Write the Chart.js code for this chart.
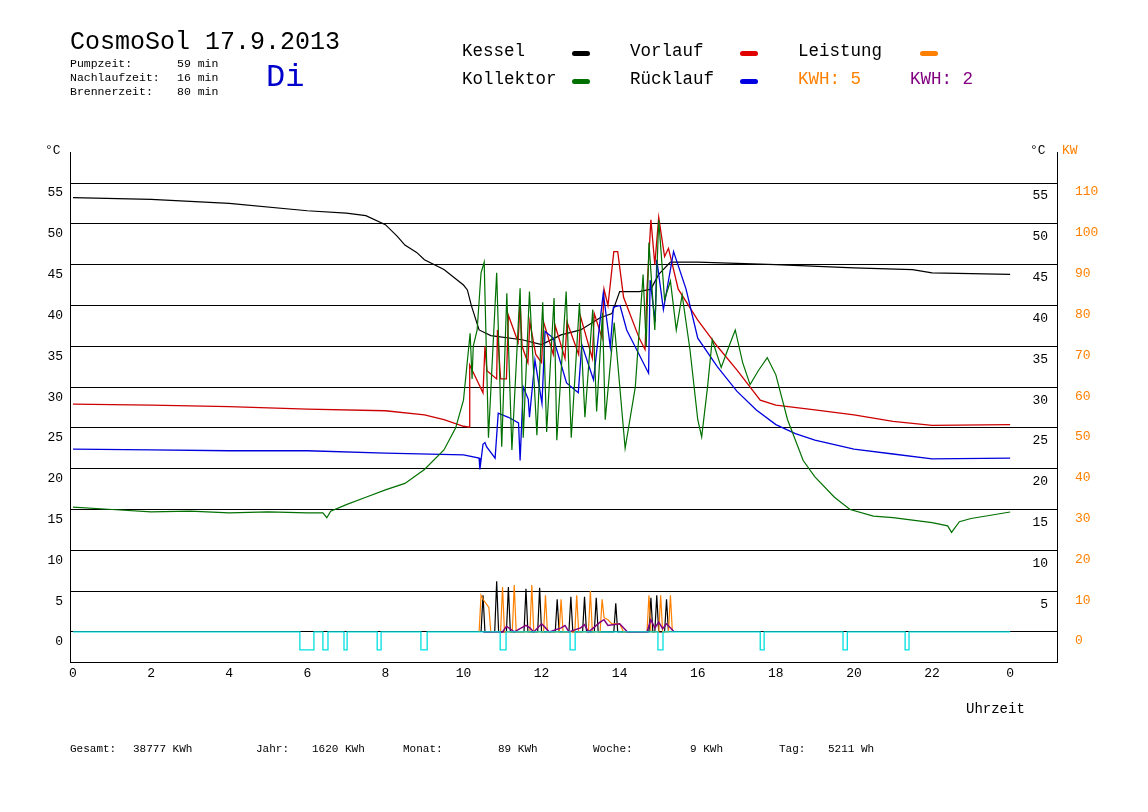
<!DOCTYPE html>
<html><head><meta charset="utf-8">
<script src="https://cdn.jsdelivr.net/npm/chart.js@4"></script>
<style>
body{margin:0;background:#fff;font-family:"Liberation Mono",monospace;}
#wrap{position:relative;width:1148px;height:812px;}
.t{position:absolute;white-space:pre;color:#000;}
.s{font-size:11.5px;}
.b{font-size:11px;top:743px;}
.lg{font-size:17.5px;}
.sw{position:absolute;width:18px;height:5px;border-radius:3px;}
</style></head><body>
<div id="wrap">
<canvas id="c" width="1148" height="812"></canvas>
<div class="t" style="left:70px;top:28px;font-size:25px;">CosmoSol 17.9.2013</div>
<div class="t s" style="left:70px;top:57px;">Pumpzeit:</div><div class="t s" style="left:177px;top:57px;">59 min</div>
<div class="t s" style="left:70px;top:71px;">Nachlaufzeit:</div><div class="t s" style="left:177px;top:71px;">16 min</div>
<div class="t s" style="left:70px;top:85px;">Brennerzeit:</div><div class="t s" style="left:177px;top:85px;">80 min</div>
<div class="t" style="left:266px;top:59px;font-size:32px;color:#0000cc;">Di</div>
<div class="t lg" style="left:462px;top:41px;">Kessel</div>
<div class="sw" style="left:572px;top:51px;background:#000"></div>
<div class="t lg" style="left:630px;top:41px;">Vorlauf</div>
<div class="sw" style="left:740px;top:51px;background:#e00000"></div>
<div class="t lg" style="left:798px;top:41px;">Leistung</div>
<div class="sw" style="left:920px;top:51px;background:#ff8000"></div>
<div class="t lg" style="left:462px;top:69px;">Kollektor</div>
<div class="sw" style="left:572px;top:79px;background:#007000"></div>
<div class="t lg" style="left:630px;top:69px;">Rücklauf</div>
<div class="sw" style="left:740px;top:79px;background:#0000e0"></div>
<div class="t lg" style="left:798px;top:69px;color:#ff8000">KWH: 5</div>
<div class="t lg" style="left:910px;top:69px;color:#800080">KWH: 2</div>
<div class="t" style="left:45px;top:143px;font-size:13px;">°C</div>
<div class="t" style="left:1030px;top:143px;font-size:13px;">°C</div>
<div class="t" style="left:1062px;top:143px;font-size:13px;color:#ff8000">KW</div>
<div class="t" style="left:966px;top:701px;font-size:14px;">Uhrzeit</div>
<div class="t b" style="left:70px;">Gesamt:</div><div class="t b" style="left:133px;">38777 KWh</div>
<div class="t b" style="left:256px;">Jahr:</div><div class="t b" style="left:312px;">1620 KWh</div>
<div class="t b" style="left:403px;">Monat:</div><div class="t b" style="left:498px;">89 KWh</div>
<div class="t b" style="left:593px;">Woche:</div><div class="t b" style="left:690px;">9 KWh</div>
<div class="t b" style="left:779px;">Tag:</div><div class="t b" style="left:828px;">5211 Wh</div>
</div>
<script>
const xTicks=[0,2,4,6,8,10,12,14,16,18,20,22,24];
const yTicksC=[0,5,10,15,20,25,30,35,40,45,50,55];
const kesselT=[0,2,4,6,7,7.5,8,8.3,8.5,8.8,9,9.5,10,10.1,10.2,10.4,10.7,11.5,12,12.5,13,13.5,13.8,14,14.5,14.8,15,15.3,16,18,20,21.5,22,24];
const kesselV=[53.2,53,52.5,51.6,51.3,51,49.9,48.5,47.4,46.5,45.6,44.4,42.5,41.9,40,37,36.3,35.8,35.2,36.4,37,38.5,39,41.7,41.7,42,43.8,45.3,45.3,45,44.6,44.4,44,43.8];
const vorT=[0,2,4,6,8,9,9.5,10,10.15,10.16,10.5,10.55,10.6,10.85,10.87,10.95,11.1,11.15,11.4,11.45,11.5,11.65,11.7,11.85,12.0,12.05,12.3,12.35,12.6,12.65,12.95,13.0,13.3,13.35,13.55,13.6,13.7,13.85,13.95,14.1,14.5,14.65,14.7,14.8,14.9,15.0,15.15,15.25,15.5,16,16.5,17,17.6,18,19,20,21,22,24];
const vorV=[27.9,27.8,27.6,27.3,27.1,26.6,26,25.2,25.1,32.7,29.3,35,32,31,37,31,31,38.8,35.5,40.7,35,33,38,34,33,38,34,37.5,33.5,38,34,38.6,33.5,39,36,42,40,46.6,46.6,41,36,34.6,42,50.5,45,50.8,46,47,42,38.2,35,32.1,28.4,27.8,27.2,26.6,25.8,25.3,25.4];
const rueckT=[0,2,4,6,8,10,10.4,10.42,10.5,10.55,10.59,10.81,10.89,11.15,11.41,11.45,11.53,11.66,11.69,11.83,12.01,12.09,12.30,12.64,12.94,13.03,13.33,13.50,13.58,13.76,13.84,14.01,14.18,14.74,14.78,14.91,14.95,15.12,15.38,15.7,16,16.5,17,17.5,18,18.5,19,20,21,22,24];
const rueckV=[22.4,22.3,22.2,22.2,21.9,21.7,21.3,19.9,23,23.2,22.7,21.3,26.8,26.3,25.6,21,30,28.5,26.3,33.3,28,36.8,36,30.5,29.3,35.2,30.9,38.2,41.5,34.9,39.8,40,37,31.7,43.1,38,45.6,39.5,46.6,42,36,32.5,29.5,27.2,25.4,24.3,23.5,22.4,21.8,21.2,21.3];
const kollT=[0,1,2,3,4,5,6,6.4,6.5,6.6,7,7.5,8,8.5,9,9.5,9.8,10.0,10.17,10.22,10.25,10.35,10.45,10.53,10.64,10.85,10.98,11.11,11.24,11.45,11.53,11.69,11.88,12.03,12.13,12.32,12.39,12.63,12.76,12.97,13.11,13.31,13.41,13.56,13.63,13.86,14.14,14.4,14.6,14.68,14.75,14.9,15.0,15.15,15.3,15.45,15.6,15.8,16.0,16.1,16.25,16.37,16.6,16.8,16.96,17.15,17.34,17.55,17.78,18.0,18.3,18.7,19.0,19.5,19.9,20.5,21,21.5,22,22.4,22.5,22.7,23,23.5,24];
const kollV=[15.3,15.0,14.7,14.8,14.6,14.7,14.6,14.6,14.0,14.8,15.6,16.5,17.4,18.2,19.9,22.3,25,28.4,36.6,31,35,37,44,45.3,23.8,44,22.7,41.5,22.3,42.1,23.8,41.7,24.1,40.4,24.5,40.9,23.5,41.7,23.8,40.3,26.3,39.5,27,39.1,26,37.9,22.5,30,43.8,35,47.7,37,50.5,40.7,43,37,41.3,34.6,26,23.9,30,35.8,32.4,35,37,33,30.3,32,33.6,31.5,26,21,19,16.5,15,14.2,14.0,13.7,13.4,13.0,12.2,13.5,13.9,14.3,14.7];
const brennT=[10.45,10.5,10.55,10.8,10.85,10.9,11.1,11.15,11.2,11.55,11.6,11.65,11.9,11.95,12.0,12.35,12.4,12.45,12.7,12.75,12.8,13.05,13.1,13.15,13.35,13.4,13.45,13.85,13.9,13.95,14.75,14.8,14.85,14.9,14.95,15.0,15.15,15.2,15.25];
const brennV=[0,4.5,0,0,6.2,0,0,5.5,0,0,5.3,0,0,5.4,0,0,4.0,0,0,4.3,0,0,4.3,0,0,4.2,0,0,3.5,0,0,4.2,0,0,4.5,0,0,4.0,0];
const leistT=[10.4,10.45,10.5,10.65,10.7,10.95,11.0,11.05,11.25,11.3,11.35,11.7,11.75,11.8,12.05,12.1,12.15,12.45,12.5,12.55,12.85,12.9,12.95,13.2,13.25,13.3,13.5,13.55,13.6,13.7,13.8,14.0,14.1,14.7,14.75,14.8,15.0,15.05,15.1,15.25,15.3,15.35];
const leistV=[0,9,8,6,0,0,11,0,0,11.5,0,0,11.5,0,0,9,0,0,8,0,0,9,0,0,10,0,0,8,3.5,3,2,2,0,0,9,0,0,9,0,0,9,0];
const kwh2T=[10.5,11.0,11.1,11.3,11.6,11.7,11.8,12.0,12.1,12.2,12.5,12.6,12.7,13.0,13.1,13.2,13.5,13.6,13.7,14.0,14.2,14.7,14.8,14.9,15.0,15.1,15.2,15.4];
const kwh2V=[0,0,0.7,0,0.8,0.5,0,1.0,0.5,0,0.5,0.8,0,0.5,0.9,0,1.2,1.5,0.8,1.0,0,0,1.5,0.5,1.2,0.4,1.0,0];
const pumpOn=[5.81,6.40,6.94,7.79,8.91,10.94,12.73,14.98,17.6,19.72,21.31];
const pumpOff=[6.17,6.53,7.02,7.89,9.07,11.09,12.86,15.11,17.7,19.83,21.41];
const pumpLow=-2.2;

const pts=(t,v)=>t.map((x,i)=>({x,y:v[i]}));
const pump=[{x:0,y:0}];
pumpOn.forEach((a,i)=>{pump.push({x:a,y:0},{x:a,y:pumpLow},{x:pumpOff[i],y:pumpLow},{x:pumpOff[i],y:0});});
pump.push({x:24,y:0});
const ds=(d,c,w)=>({data:d,borderColor:c,borderWidth:w||1.2,pointRadius:0,fill:false,tension:0,yAxisID:'y'});
const f={family:"Liberation Mono",size:13};
const YMIN=-3.68,YMAX=58.8;
new Chart(document.getElementById('c'),{
type:'line',
data:{datasets:[
 ds(pump,'#00e0e0',1.3),
 ds(pts(kwh2T,kwh2V),'#800080',1.5),
 ds(pts(leistT,leistV.map(v=>v/2)),'#ff8000',1.2),
 ds(pts(brennT,brennV),'#000',1.2),
 ds(pts(kollT,kollV),'#007000',1.2),
 ds(pts(rueckT,rueckV),'#0000dd',1.3),
 ds(pts(vorT,vorV),'#cc0000',1.3),
 ds(pts(kesselT,kesselV),'#000',1.2)
]},
options:{responsive:false,animation:false,
 layout:{padding:{top:152,left:0,right:0,bottom:0}},
 plugins:{legend:{display:false},tooltip:{enabled:false}},
 scales:{
  x:{type:'linear',min:-0.077,max:25.2,
   afterFit:s=>{s.height=150;},
   afterBuildTicks:s=>{s.ticks=xTicks.map(v=>({value:v}));},
   ticks:{color:'#000',font:f,padding:4,maxRotation:0,callback:v=>String(v%24)},
   grid:{display:false,drawTicks:false},border:{color:'#000',width:1}},
  y:{position:'left',min:YMIN,max:YMAX,
   afterFit:s=>{s.width=70;},
   afterBuildTicks:s=>{s.ticks=yTicksC.map(v=>({value:v}));},
   ticks:{color:'#000',font:f,padding:7,labelOffset:10},
   grid:{color:'#000',lineWidth:1,drawTicks:false},border:{color:'#000',width:1}},
  y2:{position:'right',min:YMIN,max:YMAX,
   afterFit:s=>{s.width=1;},
   afterBuildTicks:s=>{s.ticks=yTicksC.filter(v=>v>0).map(v=>({value:v}));},
   ticks:{color:'#000',font:f,padding:-9,labelOffset:13,mirror:true},
   grid:{display:false,drawTicks:false},border:{color:'#000',width:1}},
  y3:{position:'right',min:YMIN*2,max:YMAX*2,
   afterFit:s=>{s.width=90;},
   afterBuildTicks:s=>{s.ticks=yTicksC.map(v=>({value:v*2}));},
   ticks:{color:'#ff8000',font:f,padding:17,labelOffset:9},
   grid:{display:false,drawTicks:false},border:{display:false}}
 }}
});
</script>
</body></html>
